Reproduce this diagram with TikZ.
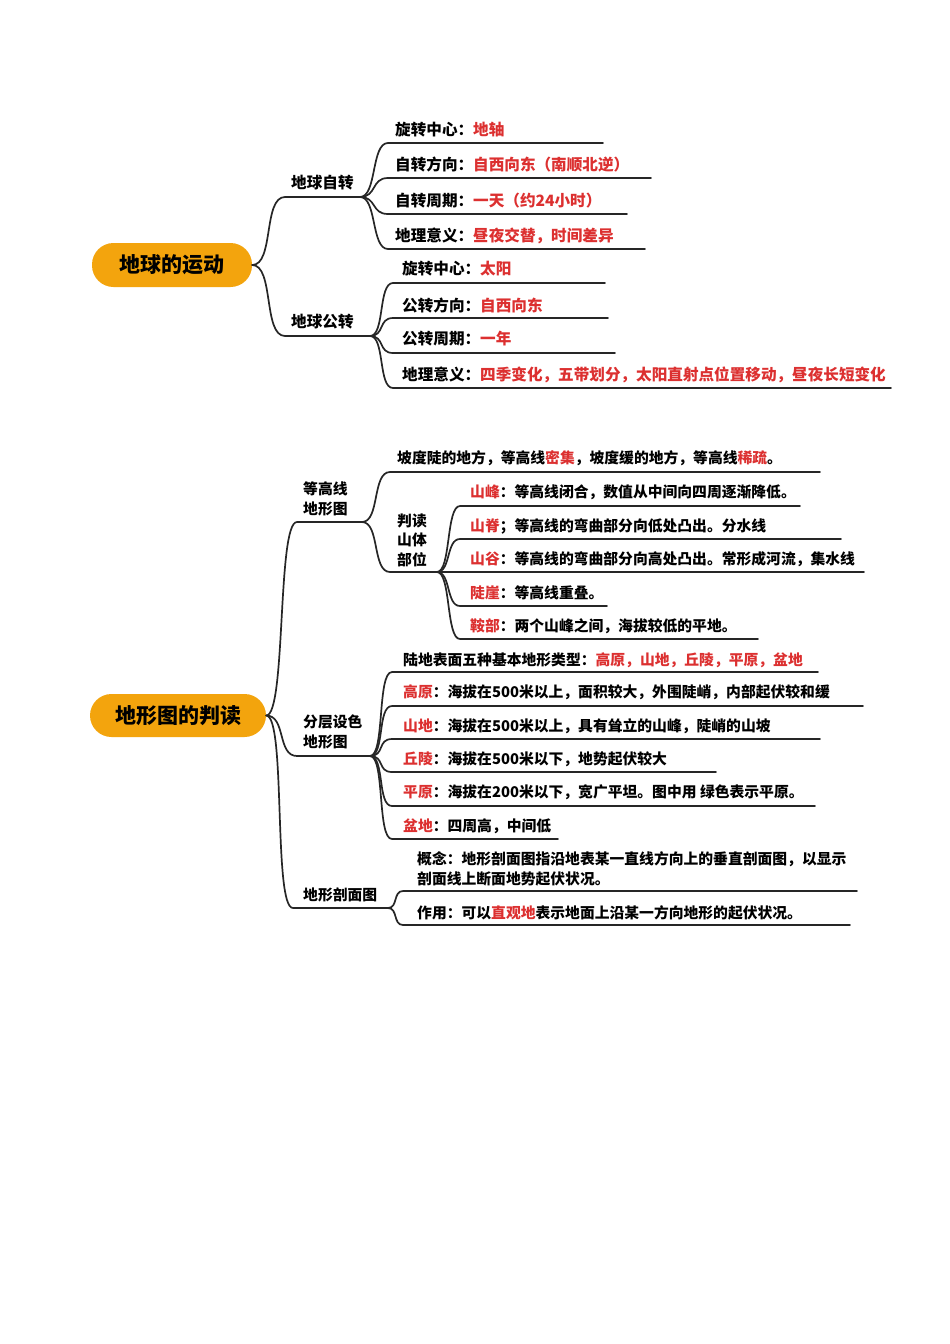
\documentclass[tikz,border=0pt]{standalone}
\usepackage{fontspec}
\setmainfont{Noto Sans CJK SC}
\newfontfamily\rootfont{Noto Sans CJK SC}
\definecolor{pillorange}{RGB}{243,164,13}
\definecolor{keyred}{RGB}{220,48,48}
\newcommand\hl[1]{\textcolor{keyred}{#1}}
\begin{document}
\begin{tikzpicture}[x=1pt,y=-1pt,
		root/.style={fill=pillorange, rounded corners=21.5pt, inner sep=0pt, font=\rootfont\fontsize{21}{21}\selectfont\bfseries},
		itemA/.style={anchor=west, inner sep=0pt, align=left, font=\fontsize{15.6}{19.5}\selectfont\bfseries},
		itemB/.style={anchor=west, inner sep=0pt, align=left, font=\fontsize{14.8}{19.5}\selectfont\bfseries},
		branch/.style={line width=1.7pt, black!85, line cap=round}]
			\fill[white] (0,0) rectangle (950,1344);
			\useasboundingbox (0,0) rectangle (950,1344);
			% 地球的运动
			\node[root, minimum width=160pt, minimum height=44pt] (earth) at (172,265) {地球的运动};
			\coordinate (spin-l) at (285,197); \coordinate (spin-r) at (360,197);
			\coordinate (orbit-l) at (285,336); \coordinate (orbit-r) at (370,336);
			\node[itemA] (spin) at (291,183) {地球自转};
			\node[itemA] (orbit) at (291,322) {地球公转};
			\draw[branch] (earth.east) .. controls +(22,0) and +(-22,0) .. (spin-l) -- (spin-r);
			\draw[branch] (earth.east) .. controls +(22,0) and +(-22,0) .. (orbit-l) -- (orbit-r);
			% 自转
			\coordinate (sp1-l) at (388,143); \coordinate (sp1-r) at (603,143);
			\coordinate (sp2-l) at (388,178); \coordinate (sp2-r) at (651,178);
			\coordinate (sp3-l) at (388,214); \coordinate (sp3-r) at (627,214);
			\coordinate (sp4-l) at (388,249); \coordinate (sp4-r) at (645,249);
			\node[itemA] (sp1) at (395,129.5) {旋转中心：\hl{地轴}};
			\node[itemA] (sp2) at (395,164.5) {自转方向：\hl{自西向东（南顺北逆）}};
			\node[itemA] (sp3) at (395,201) {自转周期：\hl{一天（约24小时）}};
			\node[itemA] (sp4) at (395,236) {地理意义：\hl{昼夜交替，时间差异}};
			\draw[branch] (spin-r) .. controls +(17,0) and +(-17,0) .. (sp1-l) -- (sp1-r);
			\draw[branch] (spin-r) .. controls +(17,0) and +(-17,0) .. (sp2-l) -- (sp2-r);
			\draw[branch] (spin-r) .. controls +(17,0) and +(-17,0) .. (sp3-l) -- (sp3-r);
			\draw[branch] (spin-r) .. controls +(17,0) and +(-17,0) .. (sp4-l) -- (sp4-r);
			% 公转
			\coordinate (or1-l) at (393,283); \coordinate (or1-r) at (605,283);
			\coordinate (or2-l) at (393,318); \coordinate (or2-r) at (608,318);
			\coordinate (or3-l) at (393,353); \coordinate (or3-r) at (615,353);
			\coordinate (or4-l) at (393,388); \coordinate (or4-r) at (891,388);
			\node[itemA] (or1) at (402,269) {旋转中心：\hl{太阳}};
			\node[itemA] (or2) at (402,305) {公转方向：\hl{自西向东}};
			\node[itemA] (or3) at (402,339) {公转周期：\hl{一年}};
			\node[itemA] (or4) at (402,375) {地理意义：\hl{四季变化，五带划分，太阳直射点位置移动，昼夜长短变化}};
			\draw[branch] (orbit-r) .. controls +(15,0) and +(-15,0) .. (or1-l) -- (or1-r);
			\draw[branch] (orbit-r) .. controls +(15,0) and +(-15,0) .. (or2-l) -- (or2-r);
			\draw[branch] (orbit-r) .. controls +(15,0) and +(-15,0) .. (or3-l) -- (or3-r);
			\draw[branch] (orbit-r) .. controls +(15,0) and +(-15,0) .. (or4-l) -- (or4-r);
			% 地形图的判读
			\node[root, minimum width=176pt, minimum height=43pt] (terrain) at (178,715.5) {地形图的判读};
			\coordinate (cont-l) at (297,522); \coordinate (cont-r) at (362,522);
			\coordinate (layer-l) at (297,756); \coordinate (layer-r) at (370,756);
			\coordinate (prof-l) at (293,908); \coordinate (prof-r) at (388,908);
			\node[itemB] (cont) at (303,499) {等高线\\地形图};
			\node[itemB] (layer) at (303,732) {分层设色\\地形图};
			\node[itemB] (prof) at (303,895) {地形剖面图};
			\draw[branch] (terrain.east) .. controls +(20,0) and +(-20,0) .. (cont-l) -- (cont-r);
			\draw[branch] (terrain.east) .. controls +(20,0) and +(-20,0) .. (layer-l) -- (layer-r);
			\draw[branch] (terrain.east) .. controls +(20,0) and +(-20,0) .. (prof-l) -- (prof-r);
			% 等高线地形图
			\coordinate (co1-l) at (390,472); \coordinate (co1-r) at (820,472);
			\coordinate (read-l) at (390,572); \coordinate (read-r) at (437,572);
			\node[itemB] (co1) at (397,458) {坡度陡的地方，等高线\hl{密集}，坡度缓的地方，等高线\hl{稀疏}。};
			\node[itemB] (read) at (397,540) {判读\\山体\\部位};
			\draw[branch] (cont-r) .. controls +(18,0) and +(-18,0) .. (co1-l) -- (co1-r);
			\draw[branch] (cont-r) .. controls +(18,0) and +(-18,0) .. (read-l) -- (read-r);
			\coordinate (rd1-l) at (460,506); \coordinate (rd1-r) at (800,506);
			\coordinate (rd2-l) at (460,539); \coordinate (rd2-r) at (841,539);
			\coordinate (rd3-l) at (460,572); \coordinate (rd3-r) at (864,572);
			\coordinate (rd4-l) at (460,606); \coordinate (rd4-r) at (607,606);
			\coordinate (rd5-l) at (460,639); \coordinate (rd5-r) at (758,639);
			\node[itemB] (rd1) at (470,492) {\hl{山峰}：等高线闭合，数值从中间向四周逐渐降低。};
			\node[itemB] (rd2) at (470,526) {\hl{山脊}；等高线的弯曲部分向低处凸出。分水线};
			\node[itemB] (rd3) at (470,559) {\hl{山谷}：等高线的弯曲部分向高处凸出。常形成河流，集水线};
			\node[itemB] (rd4) at (470,593) {\hl{陡崖}：等高线重叠。};
			\node[itemB] (rd5) at (470,626) {\hl{鞍部}：两个山峰之间，海拔较低的平地。};
			\draw[branch] (read-r) .. controls +(14,0) and +(-14,0) .. (rd1-l) -- (rd1-r);
			\draw[branch] (read-r) .. controls +(14,0) and +(-14,0) .. (rd2-l) -- (rd2-r);
			\draw[branch] (read-r) -- (rd3-l) -- (rd3-r);
			\draw[branch] (read-r) .. controls +(14,0) and +(-14,0) .. (rd4-l) -- (rd4-r);
			\draw[branch] (read-r) .. controls +(14,0) and +(-14,0) .. (rd5-l) -- (rd5-r);
			% 分层设色地形图
			\coordinate (ly1-l) at (392,672); \coordinate (ly1-r) at (818,672);
			\coordinate (ly2-l) at (392,706); \coordinate (ly2-r) at (863,706);
			\coordinate (ly3-l) at (392,739); \coordinate (ly3-r) at (820,739);
			\coordinate (ly4-l) at (392,772); \coordinate (ly4-r) at (716,772);
			\coordinate (ly5-l) at (392,806); \coordinate (ly5-r) at (815,806);
			\coordinate (ly6-l) at (392,839); \coordinate (ly6-r) at (558,839);
			\node[itemB] (ly1) at (403,660) {陆地表面五种基本地形类型：\hl{高原，山地，丘陵，平原，盆地}};
			\node[itemB] (ly2) at (403,692) {\hl{高原}：海拔在500米以上，面积较大，外围陡峭，内部起伏较和缓};
			\node[itemB] (ly3) at (403,726) {\hl{山地}：海拔在500米以上，具有耸立的山峰，陡峭的山坡};
			\node[itemB] (ly4) at (403,759) {\hl{丘陵}：海拔在500米以下，地势起伏较大};
			\node[itemB] (ly5) at (403,792) {\hl{平原}：海拔在200米以下，宽广平坦。图中用 绿色表示平原。};
			\node[itemB] (ly6) at (403,826) {\hl{盆地}：四周高，中间低};
			\draw[branch] (layer-r) .. controls +(15,0) and +(-15,0) .. (ly1-l) -- (ly1-r);
			\draw[branch] (layer-r) .. controls +(15,0) and +(-15,0) .. (ly2-l) -- (ly2-r);
			\draw[branch] (layer-r) .. controls +(15,0) and +(-15,0) .. (ly3-l) -- (ly3-r);
			\draw[branch] (layer-r) .. controls +(15,0) and +(-15,0) .. (ly4-l) -- (ly4-r);
			\draw[branch] (layer-r) .. controls +(15,0) and +(-15,0) .. (ly5-l) -- (ly5-r);
			\draw[branch] (layer-r) .. controls +(15,0) and +(-15,0) .. (ly6-l) -- (ly6-r);
			% 地形剖面图
			\coordinate (pf1-l) at (403,891); \coordinate (pf1-r) at (857,891);
			\coordinate (pf2-l) at (403,925); \coordinate (pf2-r) at (850,925);
			\node[itemB] (pf1) at (417,869) {概念：地形剖面图指沿地表某一直线方向上的垂直剖面图，以显示\\剖面线上断面地势起伏状况。};
			\node[itemB] (pf2) at (417,913) {作用：可以\hl{直观地}表示地面上沿某一方向地形的起伏状况。};
			\draw[branch] (prof-r) .. controls +(10,0) and +(-10,0) .. (pf1-l) -- (pf1-r);
			\draw[branch] (prof-r) .. controls +(10,0) and +(-10,0) .. (pf2-l) -- (pf2-r);
		\end{tikzpicture}
\end{document}
